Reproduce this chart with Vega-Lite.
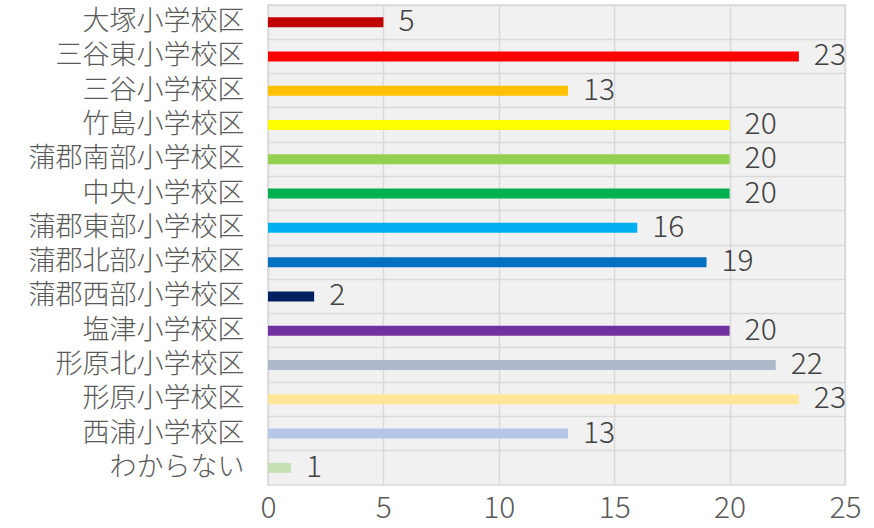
{
  "$schema": "https://vega.github.io/schema/vega-lite/v6.json",
  "autosize": "none",
  "width": 577,
  "height": 480,
  "padding": {"left": 268, "top": 5, "right": 29, "bottom": 43},
  "background": "white",
  "config": {
    "font": "Noto Sans CJK JP",
    "view": {"fill": "#f1f1f1", "stroke": "#d9d9d9", "strokeWidth": 1.5}
  },
  "data": {
    "values": [
      {"area": "大塚小学校区", "count": 5, "color": "#c00000"},
      {"area": "三谷東小学校区", "count": 23, "color": "#ff0000"},
      {"area": "三谷小学校区", "count": 13, "color": "#ffc000"},
      {"area": "竹島小学校区", "count": 20, "color": "#ffff00"},
      {"area": "蒲郡南部小学校区", "count": 20, "color": "#92d050"},
      {"area": "中央小学校区", "count": 20, "color": "#00b050"},
      {"area": "蒲郡東部小学校区", "count": 16, "color": "#00b0f0"},
      {"area": "蒲郡北部小学校区", "count": 19, "color": "#0070c0"},
      {"area": "蒲郡西部小学校区", "count": 2, "color": "#002060"},
      {"area": "塩津小学校区", "count": 20, "color": "#7030a0"},
      {"area": "形原北小学校区", "count": 22, "color": "#adb9ca"},
      {"area": "形原小学校区", "count": 23, "color": "#ffe699"},
      {"area": "西浦小学校区", "count": 13, "color": "#b4c7e7"},
      {"area": "わからない", "count": 1, "color": "#c5e0b4"}
    ]
  },
  "encoding": {
    "y": {
      "field": "area",
      "type": "nominal",
      "sort": null,
      "scale": {"paddingInner": 0, "paddingOuter": 0},
      "axis": {
        "title": null,
        "domain": false,
        "ticks": false,
        "grid": true,
        "gridColor": "#d9d9d9",
        "gridWidth": 1.5,
        "bandPosition": 0,
        "labelFontSize": 27,
        "labelFontWeight": 300,
        "labelColor": "#595959",
        "labelPadding": 24,
        "labelLimit": 0,
        "labelBound": false
      }
    },
    "x": {
      "field": "count",
      "type": "quantitative",
      "scale": {"domain": [0, 25], "nice": false},
      "axis": {
        "title": null,
        "values": [0, 5, 10, 15, 20, 25],
        "domain": false,
        "ticks": false,
        "grid": true,
        "gridColor": "#d9d9d9",
        "gridWidth": 1.5,
        "labelFontSize": 30,
        "labelFontWeight": 300,
        "labelColor": "#595959",
        "labelPadding": 8,
        "labelFlush": false,
        "labelBound": false
      }
    }
  },
  "layer": [
    {
      "mark": {"type": "bar", "size": 10},
      "encoding": {
        "color": {"field": "color", "type": "nominal", "scale": null, "legend": null}
      }
    },
    {
      "mark": {"type": "text", "align": "left", "baseline": "middle", "dx": 15, "fontSize": 30, "fontWeight": 300, "color": "#404040"},
      "encoding": {
        "text": {"field": "count", "type": "quantitative"}
      }
    }
  ]
}
